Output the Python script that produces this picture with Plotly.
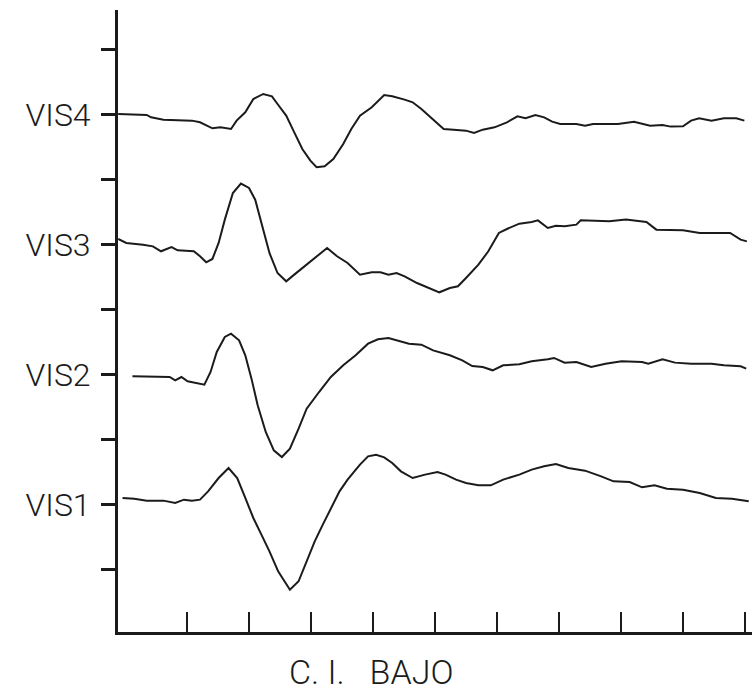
import plotly.graph_objects as go

# Channel labels and baseline levels (tick units on the vertical axis)
channels = ["VIS1", "VIS2", "VIS3", "VIS4"]
baselines = [2, 4, 6, 8]

# Vertical axis ticks and labels
y_tickvals = [1, 2, 3, 4, 5, 6, 7, 8, 9]
y_ticktext = ["", "VIS1", "", "VIS2", "", "VIS3", "", "VIS4", ""]
# Horizontal axis ticks (no labels)
x_tickvals = [1, 2, 3, 4, 5, 6, 7, 8, 9, 10]

title_text = "C. I.   BAJO"

# ---- traces: time (x-tick units) and amplitude relative to baseline (y-tick units)
vis4_t = [-0.11, 0.35, 0.42, 0.62, 1.08, 1.21, 1.41, 1.54, 1.71, 1.80, 1.94, 2.07, 2.23,
          2.37, 2.46, 2.60, 2.73, 2.86, 2.99, 3.09, 3.22, 3.36, 3.52, 3.65, 3.79, 3.98,
          4.18, 4.31, 4.51, 4.64, 4.78, 4.97, 5.14, 5.30, 5.50, 5.63, 5.77, 5.96, 6.16,
          6.33, 6.46, 6.62, 6.76, 6.89, 7.02, 7.28, 7.42, 7.55, 7.95, 8.21, 8.34, 8.47,
          8.67, 8.80, 9.00, 9.13, 9.26, 9.46, 9.66, 9.86, 9.99]
vis4_v = [0.015, 0.0, -0.036, -0.072, -0.087, -0.113, -0.205, -0.19, -0.215, -0.087, 0.041,
          0.246, 0.323, 0.287, 0.169, -0.010, -0.267, -0.523, -0.703, -0.805, -0.790,
          -0.677, -0.446, -0.215, -0.010, 0.118, 0.308, 0.287, 0.236, 0.195, 0.092,
          -0.062, -0.215, -0.226, -0.241, -0.277, -0.226, -0.190, -0.113, -0.021, -0.051,
          0.0, -0.036, -0.103, -0.138, -0.138, -0.164, -0.138, -0.138, -0.103, -0.138,
          -0.164, -0.154, -0.179, -0.174, -0.087, -0.051, -0.087, -0.051, -0.051, -0.087]

vis3_t = [-0.11, 0.02, 0.29, 0.45, 0.58, 0.75, 0.85, 1.11, 1.21, 1.31, 1.41, 1.51, 1.61,
          1.74, 1.87, 2.00, 2.10, 2.20, 2.33, 2.46, 2.60, 2.73, 2.89, 3.06, 3.26, 3.42,
          3.59, 3.79, 3.98, 4.12, 4.25, 4.38, 4.51, 4.71, 4.91, 5.07, 5.24, 5.37, 5.50,
          5.70, 5.86, 6.03, 6.16, 6.36, 6.56, 6.66, 6.82, 6.95, 7.09, 7.28, 7.35, 7.81,
          8.08, 8.41, 8.57, 9.00, 9.27, 9.76, 9.93, 10.03]
vis3_v = [0.092, 0.031, 0.005, -0.021, -0.097, -0.031, -0.082, -0.097, -0.174, -0.267,
          -0.215, 0.031, 0.390, 0.800, 0.944, 0.877, 0.697, 0.338, -0.123, -0.431, -0.559,
          -0.456, -0.328, -0.200, -0.046, -0.174, -0.277, -0.456, -0.421, -0.421, -0.456,
          -0.431, -0.482, -0.585, -0.662, -0.728, -0.662, -0.636, -0.508, -0.303, -0.097,
          0.185, 0.246, 0.328, 0.354, 0.379, 0.262, 0.297, 0.287, 0.313, 0.379, 0.364,
          0.390, 0.354, 0.236, 0.226, 0.185, 0.185, 0.082, 0.056]

vis2_t = [0.12, 0.35, 0.72, 0.81, 0.91, 1.01, 1.15, 1.28, 1.38, 1.48, 1.61, 1.71, 1.84,
          1.94, 2.04, 2.14, 2.27, 2.40, 2.53, 2.66, 2.80, 2.93, 3.13, 3.32, 3.52, 3.72,
          3.92, 4.08, 4.25, 4.38, 4.58, 4.78, 4.97, 5.24, 5.44, 5.60, 5.77, 5.93, 6.10,
          6.36, 6.56, 6.82, 6.92, 7.09, 7.28, 7.52, 7.75, 8.01, 8.34, 8.44, 8.67, 8.87,
          9.13, 9.46, 9.66, 9.93, 10.02]
vis2_v = [-0.021, -0.021, -0.031, -0.082, -0.031, -0.097, -0.118, -0.149, 0.046, 0.354,
          0.585, 0.636, 0.533, 0.303, -0.056, -0.467, -0.877, -1.159, -1.262, -1.133,
          -0.826, -0.518, -0.262, -0.031, 0.149, 0.303, 0.482, 0.549, 0.569, 0.533, 0.482,
          0.467, 0.379, 0.303, 0.226, 0.138, 0.123, 0.072, 0.149, 0.164, 0.210, 0.241,
          0.262, 0.190, 0.200, 0.123, 0.174, 0.210, 0.200, 0.174, 0.241, 0.190, 0.174,
          0.174, 0.149, 0.133, 0.097]

vis1_t = [-0.04, 0.15, 0.35, 0.62, 0.81, 0.95, 1.08, 1.21, 1.34, 1.51, 1.67, 1.81, 1.94,
          2.07, 2.20, 2.33, 2.47, 2.66, 2.80, 2.93, 3.06, 3.19, 3.32, 3.46, 3.59, 3.79,
          3.92, 4.05, 4.18, 4.31, 4.45, 4.64, 4.84, 5.04, 5.17, 5.34, 5.50, 5.70, 5.90,
          6.10, 6.36, 6.56, 6.76, 6.95, 7.15, 7.42, 7.68, 7.88, 8.14, 8.34, 8.54, 8.74,
          9.00, 9.27, 9.53, 9.79, 10.06]
vis1_v = [0.108, 0.097, 0.067, 0.067, 0.031, 0.082, 0.067, 0.082, 0.210, 0.415, 0.569,
          0.415, 0.108, -0.200, -0.456, -0.713, -1.021, -1.303, -1.174, -0.867, -0.559,
          -0.303, -0.046, 0.210, 0.390, 0.621, 0.749, 0.774, 0.733, 0.646, 0.518, 0.415,
          0.467, 0.508, 0.467, 0.390, 0.338, 0.303, 0.303, 0.390, 0.467, 0.544, 0.595,
          0.631, 0.569, 0.528, 0.441, 0.364, 0.354, 0.272, 0.303, 0.251, 0.236, 0.185,
          0.108, 0.097, 0.056]

series_t = [vis1_t, vis2_t, vis3_t, vis4_t]
series_v = [vis1_v, vis2_v, vis3_v, vis4_v]

INK = "#1b1b1b"
FONT = dict(family="Roboto, 'DejaVu Sans', sans-serif", size=32, color=INK, weight=300)

fig = go.Figure()
for name, base, t, v in zip(channels, baselines, series_t, series_v):
    fig.add_trace(go.Scatter(
        x=t, y=[base + a for a in v], mode="lines", name=name,
        line=dict(color=INK, width=2), showlegend=False, hoverinfo="skip"))

fig.update_layout(
    width=752, height=695,
    margin=dict(l=118, r=0, t=10, b=63),
    paper_bgcolor="white", plot_bgcolor="white",
    showlegend=False,
    xaxis=dict(range=[-0.113, 10.113], showgrid=False, zeroline=False,
               showline=True, linecolor=INK, linewidth=3,
               tickmode="array", tickvals=x_tickvals, showticklabels=False,
               ticks="inside", ticklen=20, tickwidth=2, tickcolor=INK),
    yaxis=dict(range=[0.046, 9.615], showgrid=False, zeroline=False,
               showline=True, linecolor=INK, linewidth=3,
               tickmode="array", tickvals=y_tickvals, ticktext=y_ticktext,
               ticks="outside", ticklen=14, tickwidth=3, tickcolor=INK,
               tickfont=FONT, ticklabelstandoff=4),
    annotations=[dict(text=title_text, xref="x", yref="paper", x=3.97, y=-0.064,
                      xanchor="center", yanchor="middle", showarrow=False,
                      font=dict(family="Roboto, 'DejaVu Sans', sans-serif",
                                size=34, color=INK, weight=300))],
)

fig.write_html("out.html")
